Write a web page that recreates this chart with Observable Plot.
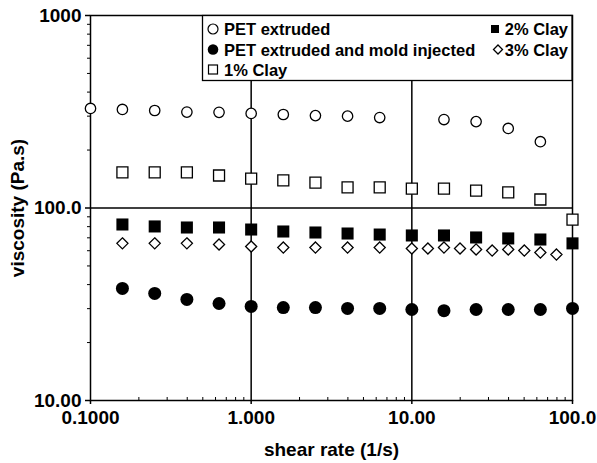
<!DOCTYPE html>
<html><head><meta charset="utf-8">
<script src="https://cdn.jsdelivr.net/npm/d3@7"></script>
<script src="https://cdn.jsdelivr.net/npm/@observablehq/plot@0.6"></script>
<style>
body{margin:0;background:#fff;}
#wrap{position:relative;width:597px;height:463px;}
#legend{position:absolute;left:0;top:0;pointer-events:none;}
</style></head><body><div id="wrap"></div>
<script>
// Series data (shear rate in 1/s, viscosity in Pa.s)
const petExtrudedX = [0.1, 0.158, 0.251, 0.398, 0.631, 1.0, 1.585, 2.512, 3.981, 6.31, 15.85, 25.12, 39.81, 63.1];
const petExtrudedY = [329, 325, 321, 315, 314, 310, 306, 302, 300, 295, 288, 281, 259, 221];

const petMoldX = [0.158, 0.251, 0.398, 0.631, 1.0, 1.585, 2.512, 3.981, 6.31, 10, 15.85, 25.12, 39.81, 63.1, 100];
const petMoldY = [38.2, 36.0, 33.5, 31.9, 30.8, 30.4, 30.4, 30.1, 30.1, 29.7, 29.3, 29.7, 29.7, 29.7, 30.1];

const clay1X = [0.158, 0.251, 0.398, 0.631, 1.0, 1.585, 2.512, 3.981, 6.31, 10, 15.85, 25.12, 39.81, 63.1, 100];
const clay1Y = [153, 153, 153, 147.5, 142, 139, 135.6, 128, 128, 126, 126, 123, 120.5, 110.7, 87];

const clay2X = [0.158, 0.251, 0.398, 0.631, 1.0, 1.585, 2.512, 3.981, 6.31, 10, 15.85, 25.12, 39.81, 63.1, 100];
const clay2Y = [82.1, 80.2, 79.2, 79.2, 77.3, 75.5, 74.6, 73.7, 72.8, 72.0, 72.0, 70.3, 69.5, 68.6, 65.5];

const clay3X = [0.158, 0.251, 0.398, 0.631, 1.0, 1.585, 2.512, 3.981, 6.31, 10, 12.59, 15.85, 19.95, 25.12, 31.62, 39.81, 50.12, 63.1, 79.43];
const clay3Y = [65.5, 65.5, 65.5, 64.6, 63.1, 62.3, 62.3, 62.3, 62.3, 61.6, 61.6, 62.3, 61.6, 60.9, 60.1, 60.9, 60.1, 58.7, 57.3];

const xTickValues = [0.1, 1, 10, 100];
const xTickLabels = ["0.1000", "1.000", "10.00", "100.0"];
const yTickValues = [10, 100, 1000];
const yTickLabels = ["10.00", "100.0", "1000"];
const xMinor = [0.2,0.3,0.4,0.5,0.6,0.7,0.8,0.9,2,3,4,5,6,7,8,9,20,30,40,50,60,70,80,90];
const yMinor = [20,30,40,50,60,70,80,90,200,300,400,500,600,700,800,900];
const gridX = [1, 10];
const gridY = [100];

const legendLeft = ["PET extruded", "PET extruded and mold injected", "1% Clay"];
const legendRight = ["2% Clay", "3% Clay"];

const pts = (xs, ys) => xs.map((x, i) => ({x, y: ys[i]}));

const chart = Plot.plot({
  width: 597, height: 463,
  marginLeft: 90, marginRight: 25, marginTop: 15, marginBottom: 63,
  x: {type: "log", domain: [0.1, 100]},
  y: {type: "log", domain: [10, 1000]},
  style: {fontFamily: "'Liberation Sans', Arial, sans-serif", fontWeight: "bold", fontSize: "19px", color: "#000", background: "#fff"},
  marks: [
    Plot.ruleX(gridX, {stroke: "black", strokeWidth: 1.5}),
    Plot.ruleY(gridY, {stroke: "black", strokeWidth: 1.5}),
    Plot.axisX(xMinor, {tickSize: -3, tickFormat: () => "", label: null, strokeWidth: 1}),
    Plot.axisY(yMinor, {tickSize: 3, tickFormat: () => "", label: null, strokeWidth: 1}),
    Plot.axisX(xTickValues, {tickSize: 4, tickPadding: 6, strokeWidth: 1.5,
      tickFormat: d => xTickLabels[xTickValues.indexOf(d)],
      label: "shear rate (1/s)", labelAnchor: "center", labelArrow: "none", labelOffset: 55}),
    Plot.axisY(yTickValues, {tickSize: 5, tickPadding: 4, strokeWidth: 1.5,
      tickFormat: d => yTickLabels[yTickValues.indexOf(d)],
      label: "viscosity (Pa.s)", labelAnchor: "center", labelArrow: "none", labelOffset: 80}),
    Plot.frame({stroke: "black", strokeWidth: 1.5}),
    Plot.dot(pts(petExtrudedX, petExtrudedY), {x: "x", y: "y", symbol: "circle", r: 5.2, stroke: "black", fill: "white", strokeWidth: 1.3}),
    Plot.dot(pts(clay1X, clay1Y), {x: "x", y: "y", symbol: "square", r: 6.2, stroke: "black", fill: "white", strokeWidth: 1.3}),
    Plot.dot(pts(clay2X, clay2Y), {x: "x", y: "y", symbol: "square", r: 6.8, fill: "black", stroke: "none"}),
    Plot.dot(pts(clay3X, clay3Y), {x: "x", y: "y", symbol: "diamond2", r: 5, stroke: "black", fill: "white", strokeWidth: 1.3}),
    Plot.dot(pts(petMoldX, petMoldY), {x: "x", y: "y", symbol: "circle", r: 6.5, fill: "black", stroke: "none"})
  ]
});

const wrap = document.getElementById("wrap");
wrap.appendChild(chart);

// Legend overlay
const ns = "http://www.w3.org/2000/svg";
const lg = document.createElementNS(ns, "svg");
lg.setAttribute("id", "legend");
lg.setAttribute("width", 597);
lg.setAttribute("height", 463);
const add = (tag, attrs, txt) => {
  const el = document.createElementNS(ns, tag);
  for (const k in attrs) el.setAttribute(k, attrs[k]);
  if (txt) el.textContent = txt;
  lg.appendChild(el);
  return el;
};
add("rect", {x: 202.5, y: 15.5, width: 369.5, height: 65, fill: "white", stroke: "black", "stroke-width": 1.3});
const tStyle = {"font-family": "'Liberation Sans', Arial, sans-serif", "font-weight": "bold", "font-size": "16.5px", fill: "black"};
const rowY = [29, 49.5, 69.5];
add("circle", {cx: 213, cy: rowY[0], r: 5, fill: "white", stroke: "black", "stroke-width": 1.2});
add("circle", {cx: 213, cy: rowY[1], r: 5.3, fill: "black"});
add("rect", {x: 208.5, y: rowY[2] - 4.5, width: 9, height: 9, fill: "white", stroke: "black", "stroke-width": 1.2});
legendLeft.forEach((t, i) => add("text", {...tStyle, x: 224, y: rowY[i] + 6}, t));
add("rect", {x: 491, y: rowY[0] - 4, width: 8, height: 8, fill: "black"});
add("path", {d: `M498,${rowY[1]-4.5}L502.5,${rowY[1]}L498,${rowY[1]+4.5}L493.5,${rowY[1]}Z`, fill: "white", stroke: "black", "stroke-width": 1.3});
legendRight.forEach((t, i) => add("text", {...tStyle, x: 568, y: rowY[i] + 6, "text-anchor": "end"}, t));
wrap.appendChild(lg);
</script>
</body></html>
